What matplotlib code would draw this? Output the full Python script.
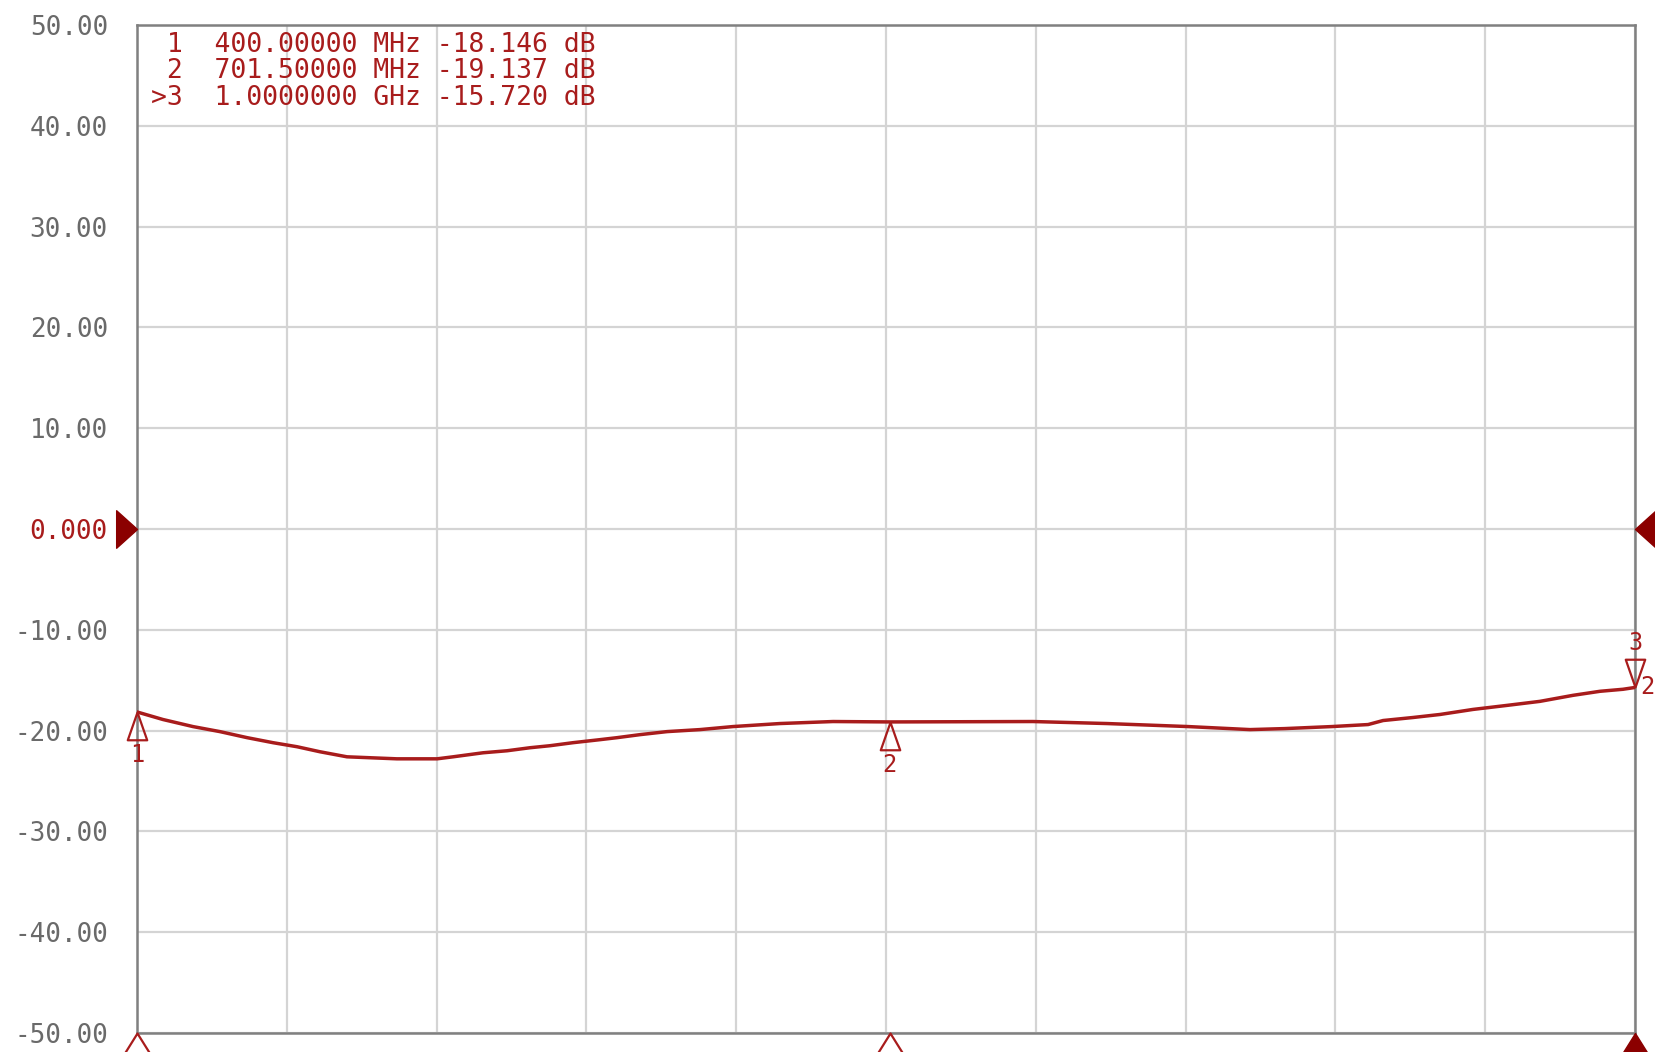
import numpy as np
import matplotlib
matplotlib.use("Agg")
import matplotlib.pyplot as plt
from matplotlib.path import Path

## trace (MHz, dB)
freq_mhz = [400.0, 410.4, 422.4, 433.2, 444.1, 454.5, 464.1, 473.3, 484.1, 504.1,
            520.2, 526.6, 538.6, 548.2, 557.4, 565.4, 574.6, 585.4, 592.3, 601.5,
            612.3, 625.5, 638.7, 657.5, 678.8, 701.5, 758.9, 788.5, 821.0, 845.8,
            859.8, 878.6, 893.1, 899.1, 911.1, 921.9, 935.1, 948.7, 961.9, 975.2,
            986.0, 995.2, 1000.0]
s_db = [-18.15, -18.9, -19.6, -20.1, -20.7, -21.2, -21.6, -22.1, -22.6, -22.8,
        -22.8, -22.6, -22.2, -22.0, -21.7, -21.5, -21.2, -20.9, -20.7, -20.4,
        -20.1, -19.9, -19.6, -19.3, -19.1, -19.14, -19.1, -19.3, -19.6, -19.9,
        -19.8, -19.6, -19.4, -19.0, -18.7, -18.4, -17.9, -17.5, -17.1, -16.5,
        -16.1, -15.9, -15.72]

## markers
mk_num = ["1", "2", "3"]
mk_freq = [400.0, 701.5, 1000.0]
mk_db = [-18.146, -19.137, -15.720]
mk_text = [" 1  400.00000 MHz -18.146 dB",
           " 2  701.50000 MHz -19.137 dB",
           ">3  1.0000000 GHz -15.720 dB"]

y_ticks = [50, 40, 30, 20, 10, 0, -10, -20, -30, -40, -50]
y_labels = ["50.00", "40.00", "30.00", "20.00", "10.00", "0.000",
            "-10.00", "-20.00", "-30.00", "-40.00", "-50.00"]

red = "#a81c1c"
dark = "#8b0000"
mono = "DejaVu Sans Mono"

fig = plt.figure(figsize=(16.55, 10.52), dpi=100)
ax = fig.add_axes([137/1655, 19/1052, 1498/1655, 1008/1052])
ax.set_xlim(400, 1000)
ax.set_ylim(-50, 50)
ax.set_xticks(np.linspace(400, 1000, 11))
ax.set_yticks(y_ticks)
ax.set_yticklabels(y_labels)
ax.tick_params(axis="x", length=0, labelbottom=False)
ax.tick_params(axis="y", length=0, pad=21, labelsize=18.7, labelcolor="#6a6a6a")
for lab in ax.get_yticklabels():
    lab.set_family(mono)
    if lab.get_text() == "0.000":
        lab.set_color(red)
ax.grid(True, color="#d4d4d4", linewidth=1.6)
ax.set_axisbelow(True)
for sp in ax.spines.values():
    sp.set_color("#808080")
    sp.set_linewidth(1.8)

ax.plot(freq_mhz, s_db, color=red, linewidth=2.5, zorder=3)

# marker symbols: apex at the point
up_tri = Path([(0, 0), (0.7, -2), (-0.7, -2), (0, 0)], [1, 2, 2, 79])
dn_tri = Path([(0, 0), (0.7, 2), (-0.7, 2), (0, 0)], [1, 2, 2, 79])
for n, f, d in zip(mk_num, mk_freq, mk_db):
    if n == "3":
        ax.plot(f, d, marker=dn_tri, ms=40, mfc="none", mec=red, mew=1.6,
                clip_on=False, zorder=4)
        ax.annotate(n, (f, d), xytext=(0, 32), textcoords="offset points",
                    ha="center", va="center", color=red, fontsize=17, family=mono,
                    annotation_clip=False)
        ax.annotate("2", (f, d), xytext=(9, 0), textcoords="offset points",
                    ha="center", va="center", color=red, fontsize=17, family=mono,
                    annotation_clip=False)
    else:
        ax.plot(f, d, marker=up_tri, ms=40, mfc="none", mec=red, mew=1.6,
                clip_on=False, zorder=4)
        ax.annotate(n, (f, d), xytext=(0, -31), textcoords="offset points",
                    ha="center", va="center", color=red, fontsize=17, family=mono,
                    annotation_clip=False)

# marker positions along the bottom edge
bt = Path([(0, 0), (1, -1.6), (-1, -1.6), (0, 0)], [1, 2, 2, 79])
xt = ax.get_xaxis_transform()
for n, f in zip(mk_num, mk_freq):
    if n == "3":
        ax.plot(f, 0, marker=bt, ms=30, color=dark, transform=xt, clip_on=False, zorder=5)
    else:
        ax.plot(f, 0, marker=bt, ms=30, mfc="white", mec=red, mew=1.6,
                transform=xt, clip_on=False, zorder=5)

# reference level arrows
yt = ax.get_yaxis_transform()
ax.plot(0, 0, marker=Path([(0, 0), (-1, 0.9), (-1, -0.9), (0, 0)], [1, 2, 2, 79]),
        ms=30, color=dark, transform=yt, clip_on=False, zorder=5)
ax.plot(1, 0, marker=Path([(0, 0), (1, 0.9), (1, -0.9), (0, 0)], [1, 2, 2, 79]),
        ms=30, color=dark, transform=yt, clip_on=False, zorder=5)

# marker readout
for i, t in enumerate(mk_text):
    fig.text(151/1655, 1 - (45 + 26.5*i)/1052, t, color=red, fontsize=19,
             family=mono, va="center", ha="left")

fig.savefig("out.png", dpi=100)
